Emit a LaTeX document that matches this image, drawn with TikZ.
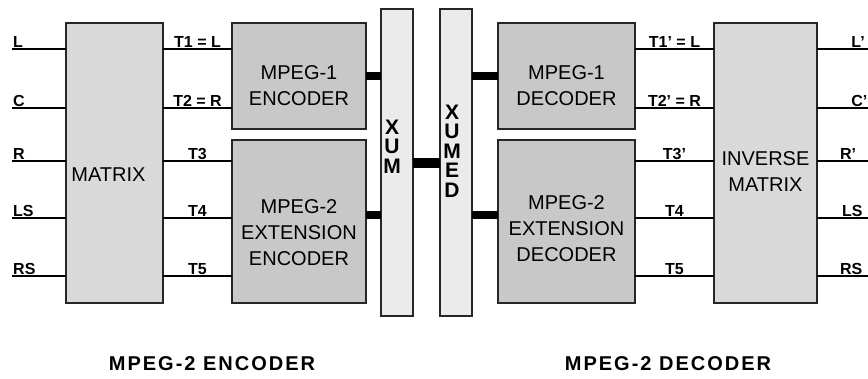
\documentclass[tikz,border=0pt]{standalone}
\usepackage{fontspec}
\setmainfont{Liberation Sans}
\definecolor{mtxgray}{gray}{0.85}
\definecolor{codgray}{gray}{0.785}
\definecolor{muxgray}{gray}{0.92}
\begin{document}
\begin{tikzpicture}[x=1pt, y=-1pt,
  blk/.style={draw=black!85, line width=2pt, inner sep=0pt, outer sep=0pt},
  boxtext/.style={font=\fontsize{20}{26}\selectfont, align=center, inner sep=0pt},
  muxtext/.style={font=\bfseries\fontsize{21}{19.5}\selectfont, align=center, inner sep=0pt},
  sig/.style={font=\bfseries\fontsize{16}{16}\selectfont, inner sep=0pt, anchor=base},
  wire/.style={line width=2.4pt},
  bus/.style={line width=8pt},
  title/.style={font=\bfseries\fontsize{20}{20}\selectfont\addfontfeature{LetterSpace=10}}]
  \useasboundingbox (0,0) rectangle (868,378);
  % signal levels
  \coordinate (yL) at (0,49);
  \coordinate (yC) at (0,108);
  \coordinate (yR) at (0,161);
  \coordinate (yLS) at (0,218);
  \coordinate (yRS) at (0,276);
  \coordinate (yB) at (0,215);
  % encoder side
  \node[blk, fill=mtxgray, minimum width=97, minimum height=280,
    label={[boxtext, xshift=-6pt, yshift=-12pt]center:MATRIX}] (mtx) at (114.5,163) {};
  \node[blk, fill=codgray, minimum width=134, minimum height=106,
    label={[boxtext, yshift=-10pt]center:{MPEG-1\\ENCODER}}] (enc1) at (299,76) {};
  \node[blk, fill=codgray, minimum width=134, minimum height=163,
    label={[boxtext, yshift=-11pt]center:{MPEG-2\\EXTENSION\\ENCODER}}] (enc2) at (299,221.5) {};
  \node[blk, fill=muxgray, minimum width=32, minimum height=307,
    label={[muxtext, xshift=-5pt, yshift=16pt]center:{X\\U\\M}}] (mux) at (397,162.5) {};
  % decoder side
  \node[blk, fill=muxgray, minimum width=32, minimum height=307,
    label={[muxtext, xshift=-4pt, yshift=11.5pt]center:{X\\U\\M\\E\\D}}] (demux) at (456,162.5) {};
  \node[blk, fill=codgray, minimum width=137, minimum height=106,
    label={[boxtext, yshift=-10pt]center:{MPEG-1\\DECODER}}] (dec1) at (566.5,76) {};
  \node[blk, fill=codgray, minimum width=137, minimum height=163,
    label={[boxtext, yshift=-7pt]center:{MPEG-2\\EXTENSION\\DECODER}}] (dec2) at (566.5,221.5) {};
  \node[blk, fill=mtxgray, minimum width=103, minimum height=280,
    label={[boxtext, yshift=-9pt]center:{INVERSE\\MATRIX}}] (imtx) at (765.5,163) {};
  % inputs
  \draw[wire] (12,49) -- (mtx.west |- yL) node[at start, sig, anchor=base west, yshift=1.5pt]{L};
  \draw[wire] (12,108) -- (mtx.west |- yC) node[at start, sig, anchor=base west, yshift=1.5pt]{C};
  \draw[wire] (12,161) -- (mtx.west |- yR) node[at start, sig, anchor=base west, yshift=1.5pt]{R};
  \draw[wire] (12,218) -- (mtx.west |- yLS) node[at start, sig, anchor=base west, yshift=1.5pt]{LS};
  \draw[wire] (12,276) -- (mtx.west |- yRS) node[at start, sig, anchor=base west, yshift=1.5pt]{RS};
  % matrix to encoders
  \draw[wire] (mtx.east |- yL) -- (enc1.west |- yL) node[midway, sig, yshift=1.5pt]{T1 = L};
  \draw[wire] (mtx.east |- yC) -- (enc1.west |- yC) node[midway, sig, yshift=1.5pt]{T2 = R};
  \draw[wire] (mtx.east |- yR) -- (enc2.west |- yR) node[midway, sig, yshift=1.5pt]{T3};
  \draw[wire] (mtx.east |- yLS) -- (enc2.west |- yLS) node[midway, sig, yshift=1.5pt]{T4};
  \draw[wire] (mtx.east |- yRS) -- (enc2.west |- yRS) node[midway, sig, yshift=1.5pt]{T5};
  % bitstreams
  \draw[bus] (enc1.east) -- (mux.west |- enc1.east);
  \draw[bus] (enc2.east |- yB) -- (mux.west |- yB);
  \draw[bus, line width=10pt] (mux.east) -- (demux.west);
  \draw[bus] (demux.east |- dec1.west) -- (dec1.west);
  \draw[bus] (demux.east |- yB) -- (dec2.west |- yB);
  % decoders to inverse matrix
  \draw[wire] (dec1.east |- yL) -- (imtx.west |- yL) node[midway, sig, yshift=1.5pt]{T1' = L};
  \draw[wire] (dec1.east |- yC) -- (imtx.west |- yC) node[midway, sig, yshift=1.5pt]{T2' = R};
  \draw[wire] (dec2.east |- yR) -- (imtx.west |- yR) node[midway, sig, yshift=1.5pt]{T3'};
  \draw[wire] (dec2.east |- yLS) -- (imtx.west |- yLS) node[midway, sig, yshift=1.5pt]{T4};
  \draw[wire] (dec2.east |- yRS) -- (imtx.west |- yRS) node[midway, sig, yshift=1.5pt]{T5};
  % outputs
  \draw[wire] (imtx.east |- yL) -- (868,49) node[pos=.65, sig, anchor=base west, yshift=1.5pt]{L'};
  \draw[wire] (imtx.east |- yC) -- (868,108) node[pos=.65, sig, anchor=base west, yshift=1.5pt]{C'};
  \draw[wire] (imtx.east |- yR) -- (868,161) node[pos=.43, sig, anchor=base west, yshift=1.5pt]{R'};
  \draw[wire] (imtx.east |- yLS) -- (868,218) node[pos=.47, sig, anchor=base west, yshift=1.5pt]{LS};
  \draw[wire] (imtx.east |- yRS) -- (868,276) node[pos=.43, sig, anchor=base west, yshift=1.5pt]{RS};
  % titles
  \node[title] (enctitle) at (212,364) {MPEG-2 ENCODER};
  \node[title] (dectitle) at (668,364) {MPEG-2 DECODER};
\end{tikzpicture}
\end{document}
